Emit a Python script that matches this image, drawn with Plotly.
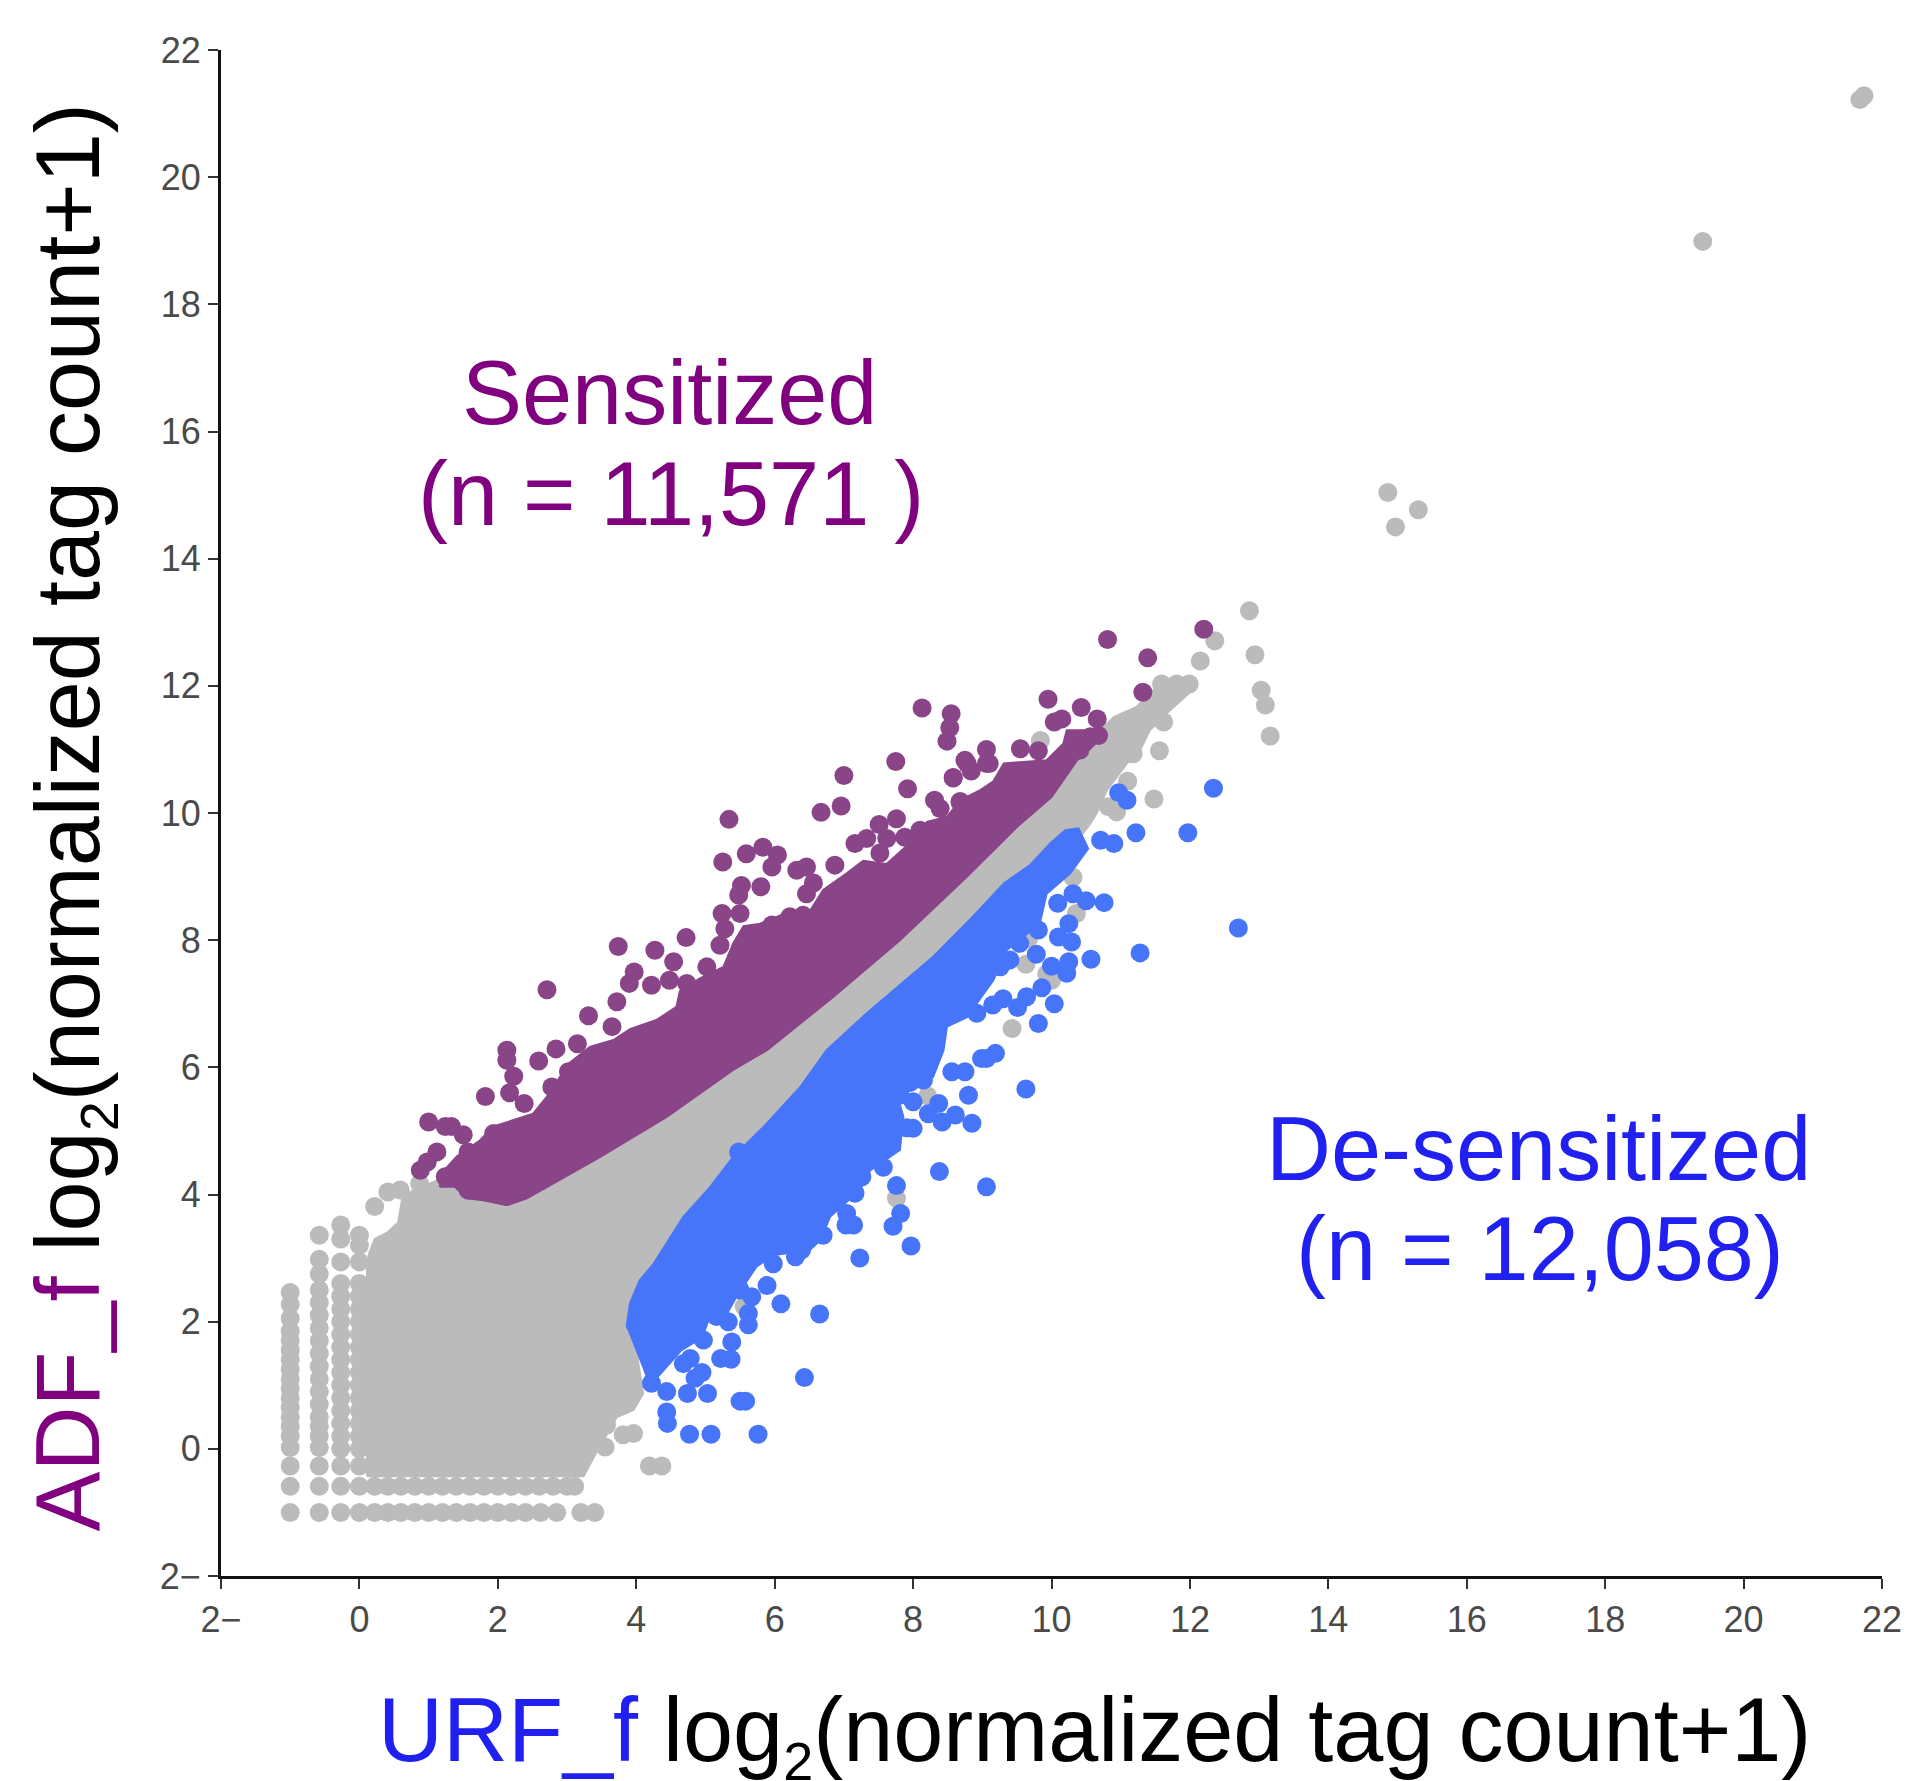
import plotly.graph_objects as go

GRAY = "#BBBBBB"
PURPLE = "#8A4588"
BLUE = "#4775FA"

tick_vals = [-2, 0, 2, 4, 6, 8, 10, 12, 14, 16, 18, 20, 22]
tick_text = ["2\u2212", "0", "2", "4", "6", "8", "10", "12", "14", "16", "18", "20", "22"]

gray_band = [(0.11, -0.43), (0.11, 2.9), (0.14, 3.07), (0.22, 3.3), (0.4, 3.4), (0.56, 3.56), (0.62, 3.95),
             (0.78, 4.07), (1.3, 4.3), (2, 5), (4, 6), (6.5, 7.8), (9, 9.9), (10.2, 10.9), (10.8, 11.4),
             (10.9, 11.51), (11.23, 11.67), (11.52, 11.98), (11.6, 12.05), (12.0, 12.05), (12.0, 11.9),
             (11.71, 11.61), (11.42, 11.3), (11.28, 10.99), (11.09, 10.78), (10.8, 10.36), (10.65, 9.99),
             (10.56, 9.83), (10.4, 9.6), (9, 8.0), (8, 6.8), (6.5, 5), (5, 3), (4.3, 2), (3.95, 1.9),
             (4.1, 0.87), (3.96, 0.61), (3.72, 0.5), (3.4, -0.1), (3.24, -0.43)]

purple_band = [(1.16, 4.12), (1.2, 4.35), (1.41, 4.6), (1.74, 4.85), (1.94, 5.07), (2.51, 5.27), (2.71, 5.54),
               (2.9, 5.85), (2.99, 6.03), (3.33, 6.32), (3.67, 6.43), (3.91, 6.6), (4.3, 6.75), (4.58, 6.95),
               (4.63, 7.2), (4.92, 7.4), (5.26, 7.58), (5.4, 7.95), (5.55, 8.22), (5.79, 8.26), (6.22, 8.45),
               (6.46, 8.37), (6.7, 8.79), (7.04, 9.05), (7.28, 9.25), (7.62, 9.2), (8.0, 9.57), (8.2, 9.86),
               (8.49, 9.94), (8.68, 10.2), (8.97, 10.36), (9.16, 10.5), (9.31, 10.78), (9.93, 10.83),
               (10.17, 11.09), (10.22, 11.3), (10.5, 11.3), (10.78, 11.25), (10.51, 10.96), (10.37, 10.83),
               (10.0, 10.25), (9.5, 9.78), (8.78, 9.0), (7.81, 8.0), (6.85, 7.11), (5.89, 6.27), (5.40, 5.96),
               (4.44, 5.22), (3.48, 4.59), (2.75, 4.15), (2.42, 3.94), (2.13, 3.83), (1.79, 3.91), (1.55, 3.94),
               (1.38, 4.12)]

blue_band = [(3.86, 1.92), (3.91, 2.29), (4.05, 2.65), (4.25, 2.91), (4.68, 3.65), (5.07, 4.12), (5.4, 4.59),
             (5.89, 5.12), (6.37, 5.69), (6.75, 6.27), (7.33, 6.85), (8.29, 7.74), (8.82, 8.32), (9.31, 8.89),
             (9.69, 9.18), (9.98, 9.52), (10.2, 9.73), (10.39, 9.76), (10.53, 9.44), (10.27, 9.05), (9.93, 8.73),
             (9.83, 8.26), (9.35, 7.84), (9.16, 7.37), (9.02, 7.16), (8.78, 6.79), (8.49, 6.64), (8.44, 6.27),
             (8.29, 5.85), (8.0, 5.64), (7.76, 5.59), (7.86, 5.22), (7.81, 4.7), (7.38, 4.38), (7.23, 4.07),
             (6.8, 3.65), (6.66, 3.28), (6.51, 3.13), (6.0, 3.05), (5.74, 2.87), (5.45, 2.4), (5.3, 2.1),
             (5.07, 2.1), (4.95, 1.75), (4.65, 1.55), (4.4, 1.25), (4.2, 1.0), (4.1, 1.29), (3.89, 1.87)]

col_a_x = [-1.0]
col_a_y = [-1.0, -0.59, -0.27, 0.02, 0.2, 0.35, 0.5, 0.65, 0.8, 0.95, 1.1, 1.25, 1.4, 1.55, 1.7, 1.85, 2.05, 2.27, 2.46]
col_b_x = [-0.58]
col_b_y = [-1.0, -0.59, -0.27, 0.02, 0.2, 0.35, 0.5, 0.7, 0.9, 1.1, 1.3, 1.5, 1.7, 1.9, 2.1, 2.3, 2.5, 2.75, 2.98, 3.36]
col_c_x = [-0.27]
col_c_y = [-1.0, -0.59, -0.27, 0.0, 0.2, 0.4, 0.6, 0.8, 1.0, 1.2, 1.4, 1.6, 1.8, 2.0, 2.2, 2.4, 2.6, 2.94, 3.3, 3.52]
col_d_x = [0.0]
col_d_y = [-1.0, -0.59, -0.27, 0.0, 0.2, 0.4, 0.6, 0.8, 1.0, 1.2, 1.4, 1.6, 1.8, 2.0, 2.2, 2.4, 2.6, 2.94, 3.2, 3.36]
row_a_x = [0.22, 0.41, 0.6, 0.8, 1.0, 1.2, 1.4, 1.6, 1.8, 2.0, 2.2, 2.4, 2.62, 2.85, 3.2, 3.4]
row_a_y = [-1.0]
row_b_x = [0.22, 0.41, 0.6, 0.8, 1.0, 1.2, 1.4, 1.6, 1.8, 2.0, 2.2, 2.4, 2.6, 2.8, 3.0, 3.11]
row_b_y = [-0.59]

gray_pts = [(21.68, 21.22), (21.74, 21.28), (19.41, 18.99), (14.86, 15.04), (14.97, 14.5), (15.3, 14.77),
            (12.86, 13.18), (12.94, 12.49), (13.03, 11.93), (13.09, 11.70), (13.16, 11.21), (12.36, 12.71),
            (12.15, 12.39), (11.99, 12.03), (11.81, 12.03), (11.59, 12.03), (11.56, 10.98), (11.48, 10.22),
            (11.62, 11.43), (11.1, 10.5), (10.82, 10.1), (10.94, 10.02), (9.84, 11.14), (10.31, 8.99),
            (10.36, 8.42), (10.0, 7.37), (9.63, 7.62), (9.43, 6.61), (9.67, 8.03), (9.93, 7.47), (8.21, 5.55),
            (7.76, 3.94), (0.22, 3.81), (0.41, 4.04), (0.59, 4.07), (0.87, 4.17), (4.37, -0.27), (4.19, -0.27),
            (3.96, 0.24), (3.81, 0.22), (3.55, 0.03), (3.57, 0.37), (6.34, 3.75), (5.56, 2.24), (11.18, 10.93)]

purple_pts = [(10.81, 12.73), (11.39, 12.44), (12.2, 12.89), (11.32, 11.9), (9.95, 11.79), (10.43, 11.66),
              (10.66, 11.48), (10.68, 11.22), (10.04, 11.43), (10.15, 11.48), (9.55, 11.01), (9.81, 10.98),
              (9.06, 11.0), (9.1, 10.78), (8.75, 10.83), (8.84, 10.66), (8.58, 10.56), (8.68, 10.17),
              (8.13, 11.65), (8.55, 11.56), (8.53, 11.34), (8.49, 11.13), (10.41, 10.99), (10.56, 11.2),
              (1.0, 5.14), (1.24, 5.07), (1.33, 5.07), (1.5, 4.94), (0.88, 4.38), (0.98, 4.51), (1.12, 4.67),
              (1.24, 4.28), (1.57, 4.07), (1.57, 4.67), (1.82, 5.54), (2.13, 6.27), (2.13, 6.11), (2.23, 5.86),
              (2.17, 5.6), (2.38, 5.43), (2.59, 6.1), (2.84, 6.29), (3.15, 6.37), (3.31, 6.81), (3.65, 6.64),
              (3.72, 7.03), (2.71, 7.22), (3.74, 7.9), (4.27, 7.84), (4.72, 8.04), (4.54, 7.66), (4.48, 7.37),
              (3.97, 7.5), (3.9, 7.32), (4.22, 7.29), (5.24, 8.42), (5.28, 8.18), (5.21, 7.92), (5.02, 7.58),
              (4.73, 7.32), (2.78, 5.69), (3.02, 5.93), (1.94, 4.96), (7.75, 10.81), (7.92, 10.38), (7.0, 10.59),
              (6.67, 10.01), (6.96, 10.11), (5.34, 9.9), (5.25, 9.23), (5.59, 9.36), (5.83, 9.46), (6.04, 9.34),
              (5.96, 9.15), (5.8, 8.84), (5.52, 8.86), (5.48, 8.71), (5.5, 8.42), (6.32, 9.1), (6.46, 9.15),
              (6.56, 8.9), (6.46, 8.73), (6.87, 9.18), (7.16, 9.52), (7.33, 9.6), (7.51, 9.82), (7.62, 9.6),
              (7.52, 9.37), (7.76, 9.91), (8.31, 10.2), (8.39, 10.07), (8.58, 10.55), (8.78, 10.78), (9.06, 10.78),
              (8.68, 10.18), (8.1, 9.73), (7.88, 9.62), (5.96, 8.24), (6.22, 8.37), (6.41, 8.39)]

blue_pts = [(12.34, 10.39), (11.97, 9.69), (11.22, 9.69), (10.97, 10.32), (11.09, 10.2), (10.71, 9.57), (10.9, 9.52),
            (10.76, 8.59), (10.5, 8.62), (10.31, 8.73), (10.09, 8.58), (10.57, 7.7), (11.28, 7.8), (12.7, 8.19),
            (10.25, 8.26), (10.29, 7.97), (10.1, 8.05), (10.25, 7.66), (10.22, 7.48), (10.0, 7.59), (9.78, 7.78),
            (9.54, 7.95), (9.81, 8.16), (9.86, 7.25), (9.64, 7.11), (9.51, 6.94), (10.04, 7.0), (9.81, 6.69),
            (9.3, 7.08), (9.15, 6.98), (8.92, 6.85), (9.19, 6.22), (9.06, 6.14), (8.99, 6.14), (8.75, 5.93),
            (8.56, 5.93), (9.63, 5.66), (8.85, 5.12), (8.8, 5.56), (8.61, 5.25), (8.42, 5.14), (8.22, 5.27),
            (8.37, 5.43), (8.0, 5.46), (8.0, 5.04), (7.91, 5.05), (7.81, 5.56), (8.38, 4.36), (9.06, 4.12),
            (7.97, 3.19), (7.82, 3.7), (7.71, 3.5), (7.76, 4.14), (6.65, 2.12), (6.09, 2.28), (5.89, 2.57),
            (7.23, 3.0), (6.43, 1.12), (5.5, 0.75), (5.58, 0.75), (4.77, 0.23), (5.08, 0.23), (5.76, 0.23),
            (4.45, 0.4), (4.44, 0.58), (4.44, 0.9), (4.74, 0.87), (5.03, 0.87), (4.95, 1.2), (4.78, 1.42),
            (4.85, 1.11), (5.22, 1.42), (5.37, 1.41), (5.38, 1.68), (5.62, 1.95), (5.62, 2.13), (5.67, 2.39),
            (5.5, 2.5), (5.33, 2.0), (5.16, 2.08), (4.97, 1.71), (4.68, 1.34), (4.22, 1.03), (5.98, 2.91),
            (6.3, 3.02), (6.39, 3.13), (6.7, 3.36), (7.14, 3.52), (7.03, 3.52), (7.04, 3.7), (6.87, 3.91),
            (7.26, 4.28), (7.57, 4.43), (7.16, 4.02), (5.48, 4.67), (8.15, 5.8), (9.26, 7.58), (9.4, 7.69)]


def unzip(pairs):
    return [p[0] for p in pairs], [p[1] for p in pairs]


def band(pairs, color):
    xs, ys = unzip(pairs)
    return go.Scatter(x=xs + xs[:1], y=ys + ys[:1], mode="lines", fill="toself", fillcolor=color,
                      line=dict(color=color, width=2), hoverinfo="skip", showlegend=False)


def dots(xs, ys, color):
    return go.Scatter(x=xs, y=ys, mode="markers", marker=dict(color=color, size=19, line=dict(width=0)),
                      hoverinfo="skip", showlegend=False)


fig = go.Figure()
fig.add_trace(band(gray_band, GRAY))
for cx, cy in [(col_a_x, col_a_y), (col_b_x, col_b_y), (col_c_x, col_c_y), (col_d_x, col_d_y)]:
    fig.add_trace(dots(cx * len(cy), cy, GRAY))
for rx, ry in [(row_a_x, row_a_y), (row_b_x, row_b_y)]:
    fig.add_trace(dots(rx, ry * len(rx), GRAY))
fig.add_trace(dots(*unzip(gray_pts), GRAY))
fig.add_trace(band(purple_band, PURPLE))
fig.add_trace(dots(*unzip(purple_pts), PURPLE))
fig.add_trace(band(blue_band, BLUE))
fig.add_trace(dots(*unzip(blue_pts), BLUE))

axis = dict(range=[-2, 22], tickmode="array", tickvals=tick_vals, ticktext=tick_text, showgrid=False,
            zeroline=False, showline=True, linecolor="#111111", linewidth=3, ticks="outside", ticklen=10,
            tickwidth=2, tickcolor="#333333",
            tickfont=dict(family="Liberation Sans", size=36, color="#4A4A4A"))
fig.update_xaxes(**axis)
fig.update_yaxes(**axis)


def label(text, x, y, size, color, angle=0):
    fig.add_annotation(text=text, x=x, y=y, xref="paper", yref="paper", xanchor="center", yanchor="middle",
                       showarrow=False, textangle=angle,
                       font=dict(family="Liberation Sans, Arial", size=size, color=color))


W, H = 1913, 1781
L, R, T, B = 221, 1882, 50, 1576


def px(sx):
    return (sx * 1913 / 1568 - L) / (R - L)


def py(sy):
    return (B - sy * 1781 / 1460) / (B - T)


SUB2 = '<sub><span style="font-size:54px">2</span></sub>'
label("Sensitized", px(549), py(322), 90, "#800080")
label("(n = 11,571 )", px(550), py(405), 90, "#800080")
label("De-sensitized", px(1261), py(942), 90, "#2020F0")
label("(n = 12,058)", px(1262), py(1024), 90, "#2020F0")
label('<span style="color:#2020F0">URF_f</span> log' + SUB2 + '(normalized tag count+1)',
      px(897), py(1423), 90, "#000000")
label('<span style="color:#800080">ADF_f</span> log' + SUB2 + '(normalized tag count+1)',
      px(60), py(670), 90, "#000000", angle=-90)

fig.update_layout(width=W, height=H, autosize=False, plot_bgcolor="white", paper_bgcolor="white",
                  margin=dict(l=L, r=W - R, t=T, b=H - B), showlegend=False)
fig.write_html("out.html", post_script="document.body.style.margin='0';", config={"displayModeBar": False})
